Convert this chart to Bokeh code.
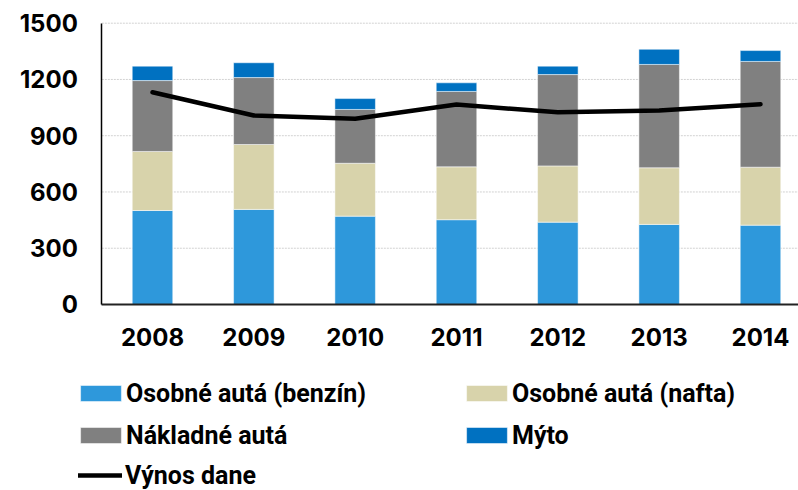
from bokeh.plotting import figure
from bokeh.models import ColumnDataSource, Range1d, FixedTicker, Legend, LegendItem
from bokeh.embed import file_html
from bokeh.resources import INLINE

# ---- data ----
years = ["2008", "2009", "2010", "2011", "2012", "2013", "2014"]
benzin = [501, 507, 471, 452, 439, 427, 423]
nafta = [315, 346, 282, 282, 300, 302, 309]
nakladne = [378, 357, 287, 402, 487, 551, 564]
myto = [77, 79, 58, 46, 45, 81, 58]
vynos = [1132, 1008, 990, 1066, 1025, 1034, 1068]
y_ticks = [0, 300, 600, 900, 1200, 1500]
series_names = ["Osobné autá (benzín)", "Osobné autá (nafta)", "Nákladné autá", "Mýto"]
line_name = "Výnos dane"
colors = ["#2E98DB", "#D8D3AB", "#808080", "#0071C1"]

x = list(range(len(years)))
src = ColumnDataSource(dict(x=x, benzin=benzin, nafta=nafta, nakladne=nakladne,
                            myto=myto, vynos=vynos))

TICK_FONT = "Inter"
LEG_FONT = "Roboto"

# data area spans x in [-0.5, 6.375], y in [0, 1500];
# the frame is widened so the axis labels and legend fit inside it
X_LO, X_HI = -0.5, 6.375
Y_LO, Y_HI = 0, 1500

p = figure(width=798, height=490,
           x_range=Range1d(-1.5, X_HI), y_range=Range1d(-992, 1621),
           output_backend="svg", toolbar_location=None,
           min_border_left=0, min_border_right=0, min_border_top=0,
           min_border_bottom=0)
p.outline_line_color = None
p.background_fill_color = "white"
p.border_fill_color = "white"
p.xgrid.visible = False
p.ygrid.visible = False

# dotted horizontal gridlines, only across the data area
p.segment(x0=[X_LO] * len(y_ticks), y0=y_ticks, x1=[X_HI] * len(y_ticks), y1=y_ticks,
          line_color="#d2d2d2", line_dash="2 1", line_width=1, level="underlay")

bars = p.vbar_stack(["benzin", "nafta", "nakladne", "myto"], x="x", width=0.4,
                    fill_color=colors, line_color="white", line_alpha=0.5,
                    line_width=1, source=src)
ln = p.line(x="x", y="vynos", source=src, line_width=4.5, line_color="black",
            line_join="round", line_cap="round")

# axes, fixed at the data-area edges
p.xaxis.fixed_location = Y_LO
p.xaxis.bounds = (X_LO, X_HI)
p.xaxis.ticker = FixedTicker(ticks=x)
p.xaxis.major_label_overrides = {i: y for i, y in zip(x, years)}
p.yaxis.fixed_location = X_LO
p.yaxis.bounds = (Y_LO, Y_HI)
p.yaxis.ticker = FixedTicker(ticks=y_ticks)
for ax in (p.xaxis[0], p.yaxis[0]):
    ax.major_tick_line_color = None
    ax.minor_tick_line_color = None
    ax.major_tick_out = 0
    ax.major_tick_in = 0
    ax.major_label_text_font = TICK_FONT
    ax.major_label_text_font_style = "bold"
    ax.major_label_text_font_size = "24px"
    ax.major_label_text_color = "black"
p.yaxis.axis_line_color = "black"
p.yaxis.axis_line_width = 1.5
p.yaxis.major_label_standoff = 24
p.xaxis.axis_line_color = "#222222"
p.xaxis.axis_line_width = 2
p.xaxis.major_label_standoff = 24

common = dict(orientation="horizontal", padding=0, margin=0, border_line_color=None,
              background_fill_alpha=0, label_text_font=LEG_FONT,
              label_text_font_style="bold", label_text_font_size="25px",
              label_text_color="black", label_height=32, spacing=10)

leg1 = Legend(items=[LegendItem(label=series_names[i], renderers=[bars[i]]) for i in range(4)],
              location=(75, 39), ncols=2, glyph_width=51, glyph_height=20,
              label_standoff=0, label_width=325, **common)
leg2 = Legend(items=[LegendItem(label=line_name, renderers=[ln])],
              location=(78, -1), glyph_width=44, glyph_height=20,
              label_standoff=3, **common)
p.add_layout(leg1)
p.add_layout(leg2)

open("out.html", "w").write(file_html(p, INLINE))
